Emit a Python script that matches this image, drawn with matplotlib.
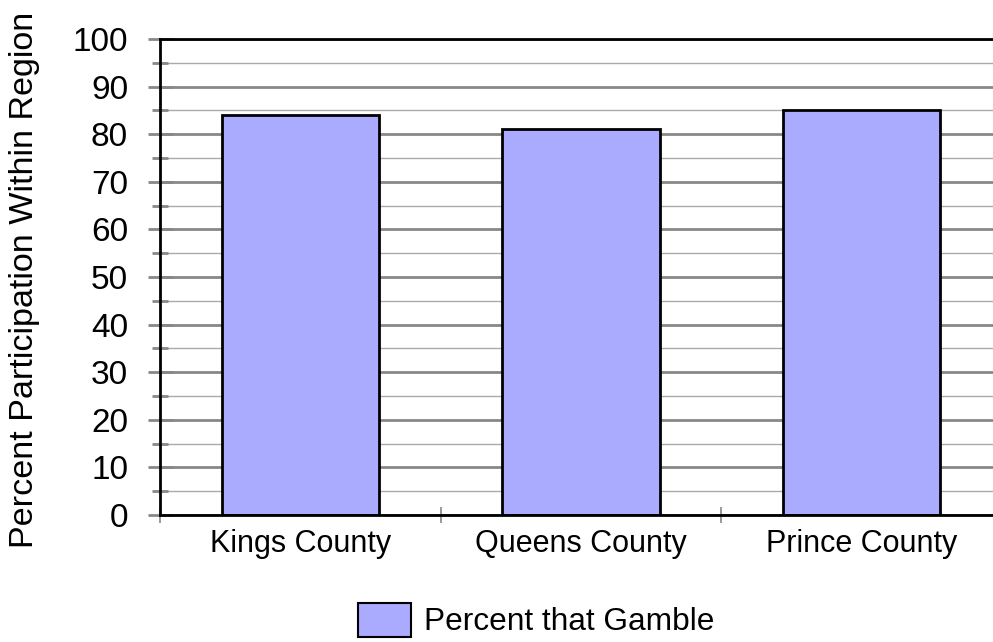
import matplotlib

matplotlib.use("Agg")
import matplotlib.pyplot as plt
from matplotlib.patches import Patch
from matplotlib.ticker import MultipleLocator, FixedLocator

counties = ["Kings County", "Queens County", "Prince County"]
pct_gamble = [84, 81, 85]
series_name = "Percent that Gamble"
y_label = "Percent Participation Within Region"

plt.rcParams["font.family"] = ["Liberation Sans", "DejaVu Sans"]

fig = plt.figure(figsize=(9.93, 6.42), dpi=100)
ax = fig.add_axes([160 / 993, 1 - 515 / 642, 842 / 993, 476 / 642])

x = range(len(counties))
ax.bar(x, pct_gamble, width=0.56, color="#aaaaff", edgecolor="black",
       linewidth=2, zorder=3)

ax.set_xlim(-0.5, len(counties) - 0.5)
ax.set_ylim(0, 100)

# grid: darker lines every 10, lighter every 5
ax.yaxis.set_major_locator(MultipleLocator(10))
ax.yaxis.set_minor_locator(MultipleLocator(5))
ax.grid(axis="y", which="major", color="#888888", linewidth=2, zorder=1)
ax.grid(axis="y", which="minor", color="#aaaaaa", linewidth=1, zorder=1)
ax.grid(axis="x", visible=False)

ax.set_xticks(list(x))
ax.set_xticklabels(counties, fontsize=22)
ax.xaxis.set_minor_locator(FixedLocator([-0.5, 0.5, 1.5]))
ax.tick_params(axis="x", which="major", length=0, pad=10)
ax.tick_params(axis="x", which="minor", direction="inout", length=12,
               width=1.2, color="#888888")

ax.tick_params(axis="y", which="major", direction="inout", length=18,
               width=2, color="#888888", labelsize=24, pad=14)
ax.tick_params(axis="y", which="minor", direction="inout", length=12,
               width=2, color="#888888")

for side in ("left", "bottom", "top"):
    ax.spines[side].set_color("black")
    ax.spines[side].set_linewidth(2)
    ax.spines[side].set_zorder(4)
ax.spines["right"].set_visible(False)

fig.text(25 / 993, 1 - 280 / 642, y_label, rotation=90, ha="center",
         va="center", fontsize=24.6)

handle = Patch(facecolor="#aaaaff", edgecolor="black", linewidth=1.5)
fig.legend([handle], [series_name], loc="center", bbox_to_anchor=(536 / 993, 1 - 620 / 642),
           frameon=False, fontsize=22.8, handlelength=1.7, handleheight=1.3,
           handletextpad=0.4)

fig.savefig("out.png", dpi=100)
